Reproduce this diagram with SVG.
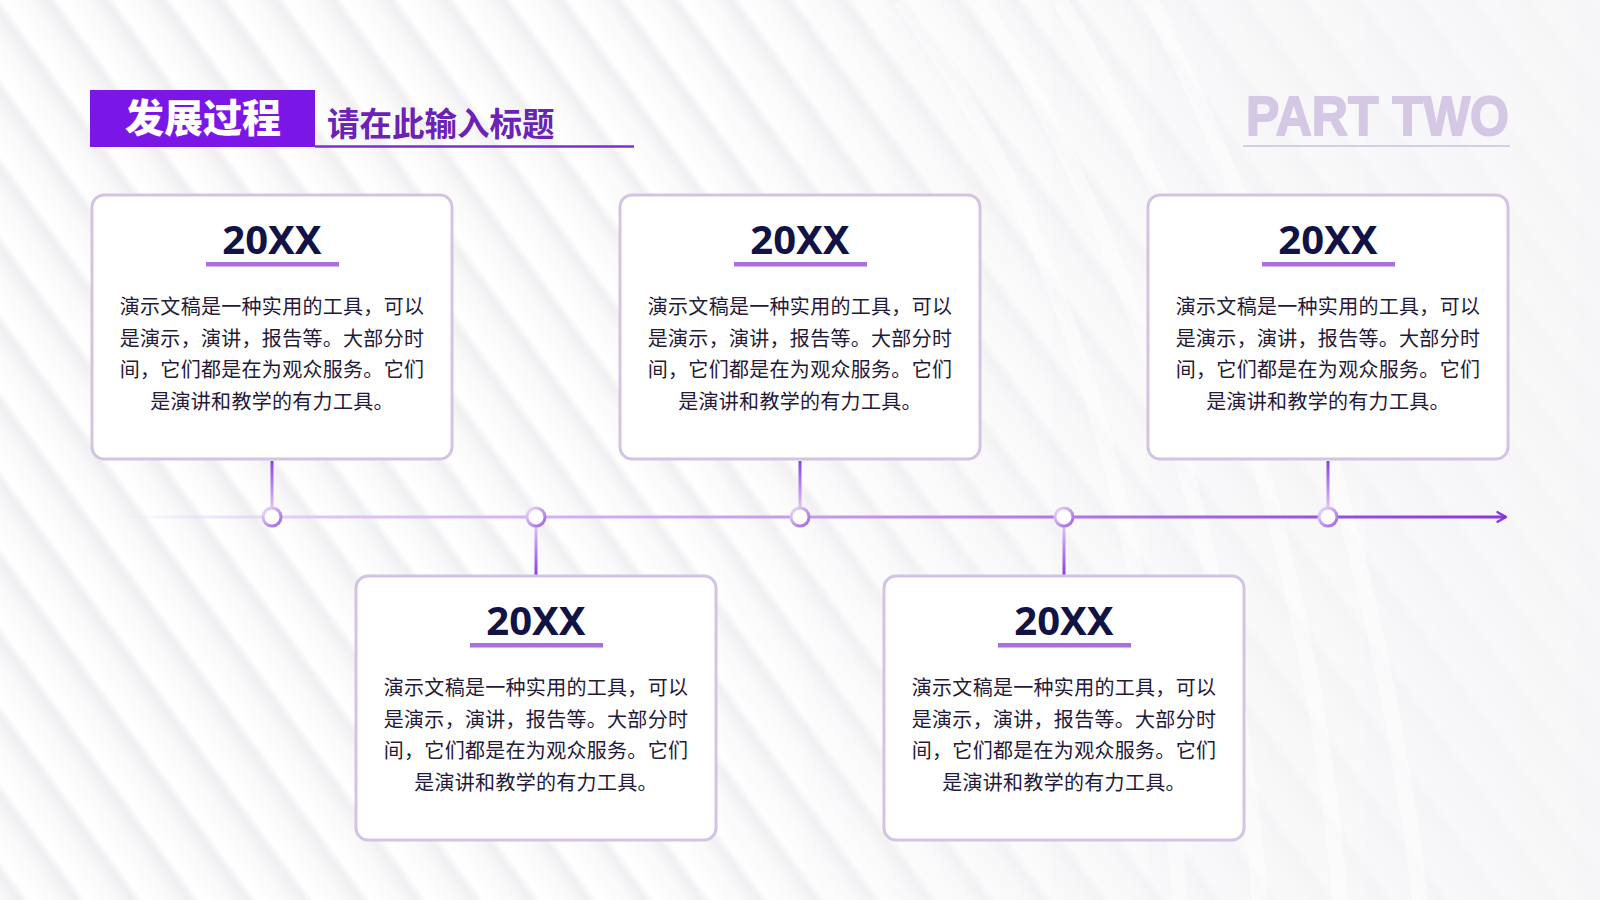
<svg xmlns="http://www.w3.org/2000/svg" width="1600" height="900" viewBox="0 0 1600 900">
<defs>
  <linearGradient id="stripeG" x1="0" y1="0" x2="1" y2="0">
    <stop offset="0" stop-color="#ffffff"/>
    <stop offset="0.55" stop-color="#f9f9fa"/>
    <stop offset="0.85" stop-color="#efeff2"/>
    <stop offset="1" stop-color="#fcfcfd"/>
  </linearGradient>
  <pattern id="stripes" width="46" height="46" patternUnits="userSpaceOnUse" patternTransform="rotate(-36)">
    <rect width="46" height="46" fill="url(#stripeG)"/>
  </pattern>
  <linearGradient id="fadeG" x1="0" y1="0" x2="1" y2="0">
    <stop offset="0" stop-color="#fff" stop-opacity="1"/>
    <stop offset="0.45" stop-color="#fff" stop-opacity="0.9"/>
    <stop offset="0.7" stop-color="#fff" stop-opacity="0.35"/>
    <stop offset="1" stop-color="#fff" stop-opacity="0.1"/>
  </linearGradient>
  <mask id="stripeMask">
    <rect width="1600" height="900" fill="url(#fadeG)"/>
  </mask>
  <linearGradient id="lineG" x1="110" y1="0" x2="1510" y2="0" gradientUnits="userSpaceOnUse">
    <stop offset="0" stop-color="#e6d6fa" stop-opacity="0"/>
    <stop offset="0.15" stop-color="#dcc6f7"/>
    <stop offset="0.5" stop-color="#c79af0"/>
    <stop offset="1" stop-color="#8a35dc"/>
  </linearGradient>
  <linearGradient id="vDown" x1="0" y1="0" x2="0" y2="1">
    <stop offset="0" stop-color="#8b3fdf"/>
    <stop offset="1" stop-color="#dcc4f6"/>
  </linearGradient>
  <linearGradient id="vUp" x1="0" y1="1" x2="0" y2="0">
    <stop offset="0" stop-color="#8b3fdf"/>
    <stop offset="1" stop-color="#dcc4f6"/>
  </linearGradient>
  <linearGradient id="ringG" x1="0" y1="0" x2="1" y2="1">
    <stop offset="0" stop-color="#eadcfb"/>
    <stop offset="1" stop-color="#9f5ee6"/>
  </linearGradient>
  <marker id="arrow" viewBox="0 0 10 10" refX="8" refY="5" markerWidth="4" markerHeight="4" orient="auto" markerUnits="strokeWidth">
    <path d="M1,1 L8,5 L1,9" fill="none" stroke="#8a35dc" stroke-width="2" stroke-linecap="round" stroke-linejoin="round"/>
  </marker>
  <style>
    .card{fill:#ffffff;stroke:#d3c4e4;stroke-width:3}
    .year{font-family:"Noto Sans","Open Sans","Liberation Sans",sans-serif;font-weight:700;font-size:40px;fill:#111345;text-anchor:middle}
    .bar{fill:#a86ee2}
    .body{font-family:"Noto Sans CJK SC","Noto Sans",sans-serif;font-size:20px;letter-spacing:0.3px;fill:#241a38;text-anchor:middle;font-weight:400}
    .ring{fill:#ffffff;stroke:url(#ringG);stroke-width:3}
  </style>
</defs>

<!-- background -->
<rect width="1600" height="900" fill="#f7f7f9"/>
<rect width="1600" height="900" fill="url(#stripes)" mask="url(#stripeMask)"/>
<g fill="none" stroke="#ffffff" stroke-opacity="0.45" stroke-width="16">
  <path d="M900,0 C1050,200 1150,500 1180,900"/>
  <path d="M980,0 C1120,220 1230,520 1260,900"/>
  <path d="M1060,0 C1200,240 1310,540 1340,900"/>
  <path d="M1150,0 C1280,260 1380,560 1420,900"/>
</g>

<!-- header -->
<g id="title">
  <rect x="90" y="90" width="225" height="57" fill="#7b17e6"/>
  <text x="203" y="132" font-family="'Noto Sans CJK SC',sans-serif" font-weight="900" font-size="39" fill="#ffffff" text-anchor="middle">发展过程</text>
  <text x="327" y="136" font-family="'Noto Sans CJK SC',sans-serif" font-weight="700" font-size="32.5" fill="#6b22b5">请在此输入标题</text>
  <line x1="315" y1="146.5" x2="634" y2="146.5" stroke="#7b2fd0" stroke-width="2.5"/>
</g>
<g id="part-two">
  <text x="1246" y="135" font-family="'Liberation Sans',Arial,sans-serif" font-weight="700" font-size="56" fill="#d5c8e4" stroke="#d5c8e4" stroke-width="1.8" stroke-linejoin="round" textLength="263" lengthAdjust="spacingAndGlyphs">PART TWO</text>
  <line x1="1243" y1="146" x2="1510" y2="146" stroke="#d8cce8" stroke-width="2"/>
</g>

<!-- connectors -->
<g id="connectors">
  <line x1="110" y1="517" x2="1506" y2="517" stroke="url(#lineG)" stroke-width="3" marker-end="url(#arrow)"/>
  <rect x="270.5" y="461" width="3" height="47" fill="url(#vDown)"/>
  <rect x="798.5" y="461" width="3" height="47" fill="url(#vDown)"/>
  <rect x="1326.5" y="461" width="3" height="47" fill="url(#vDown)"/>
  <rect x="534.5" y="526" width="3" height="49" fill="url(#vUp)"/>
  <rect x="1062.5" y="526" width="3" height="49" fill="url(#vUp)"/>
  <circle class="ring" cx="272" cy="517" r="9"/>
  <circle class="ring" cx="536" cy="517" r="9"/>
  <circle class="ring" cx="800" cy="517" r="9"/>
  <circle class="ring" cx="1064" cy="517" r="9"/>
  <circle class="ring" cx="1328" cy="517" r="9"/>
</g>

<!-- cards -->
<g id="card1">
  <rect class="card" x="92" y="195" width="360" height="264" rx="12"/>
  <text class="year" x="272" y="254">20XX</text>
  <rect class="bar" x="206" y="262" width="133" height="4.5"/>
  <text class="body" x="272" y="314">演示文稿是一种实用的工具，可以</text>
  <text class="body" x="272" y="346">是演示，演讲，报告等。大部分时</text>
  <text class="body" x="272" y="377">间，它们都是在为观众服务。它们</text>
  <text class="body" x="272" y="409">是演讲和教学的有力工具。</text>
</g>
<g id="card2">
  <rect class="card" x="356" y="576" width="360" height="264" rx="12"/>
  <text class="year" x="536" y="635">20XX</text>
  <rect class="bar" x="470" y="643" width="133" height="4.5"/>
  <text class="body" x="536" y="695">演示文稿是一种实用的工具，可以</text>
  <text class="body" x="536" y="727">是演示，演讲，报告等。大部分时</text>
  <text class="body" x="536" y="758">间，它们都是在为观众服务。它们</text>
  <text class="body" x="536" y="790">是演讲和教学的有力工具。</text>
</g>
<g id="card3">
  <rect class="card" x="620" y="195" width="360" height="264" rx="12"/>
  <text class="year" x="800" y="254">20XX</text>
  <rect class="bar" x="734" y="262" width="133" height="4.5"/>
  <text class="body" x="800" y="314">演示文稿是一种实用的工具，可以</text>
  <text class="body" x="800" y="346">是演示，演讲，报告等。大部分时</text>
  <text class="body" x="800" y="377">间，它们都是在为观众服务。它们</text>
  <text class="body" x="800" y="409">是演讲和教学的有力工具。</text>
</g>
<g id="card4">
  <rect class="card" x="884" y="576" width="360" height="264" rx="12"/>
  <text class="year" x="1064" y="635">20XX</text>
  <rect class="bar" x="998" y="643" width="133" height="4.5"/>
  <text class="body" x="1064" y="695">演示文稿是一种实用的工具，可以</text>
  <text class="body" x="1064" y="727">是演示，演讲，报告等。大部分时</text>
  <text class="body" x="1064" y="758">间，它们都是在为观众服务。它们</text>
  <text class="body" x="1064" y="790">是演讲和教学的有力工具。</text>
</g>
<g id="card5">
  <rect class="card" x="1148" y="195" width="360" height="264" rx="12"/>
  <text class="year" x="1328" y="254">20XX</text>
  <rect class="bar" x="1262" y="262" width="133" height="4.5"/>
  <text class="body" x="1328" y="314">演示文稿是一种实用的工具，可以</text>
  <text class="body" x="1328" y="346">是演示，演讲，报告等。大部分时</text>
  <text class="body" x="1328" y="377">间，它们都是在为观众服务。它们</text>
  <text class="body" x="1328" y="409">是演讲和教学的有力工具。</text>
</g>
</svg>
